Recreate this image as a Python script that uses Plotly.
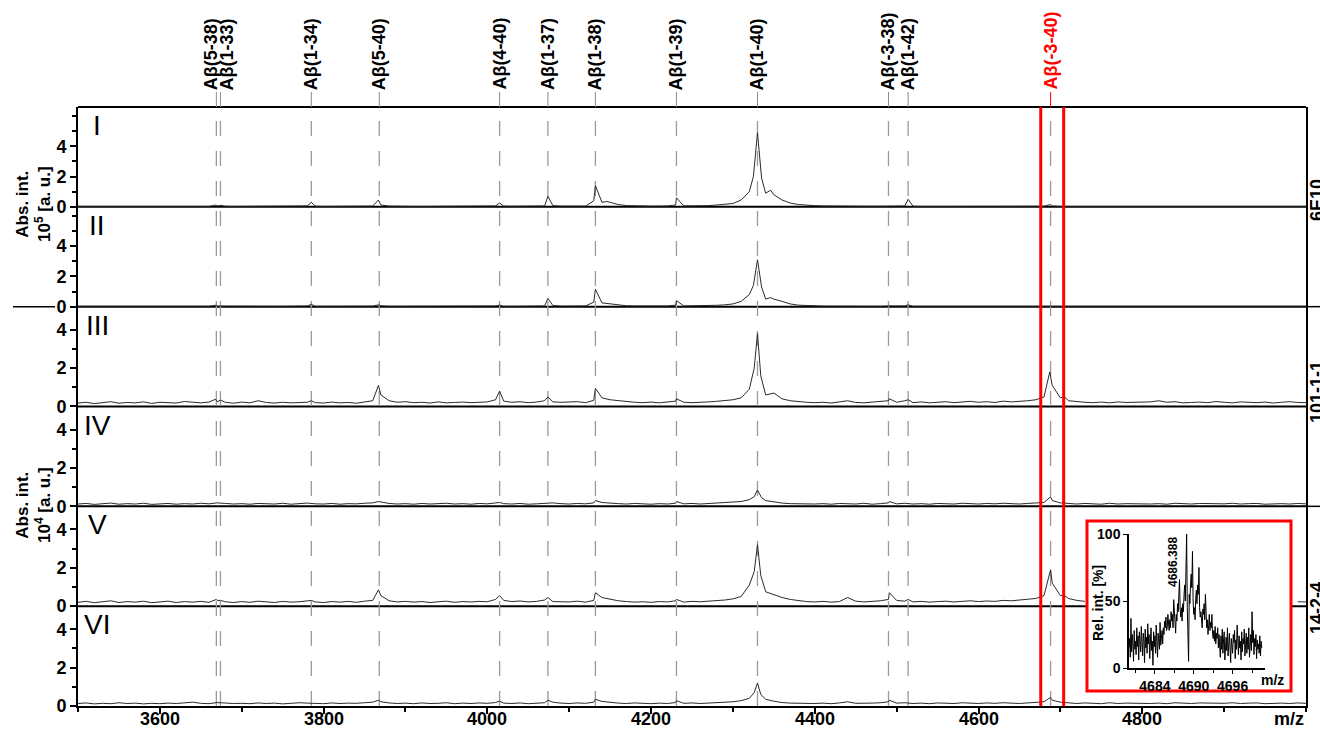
import plotly.graph_objects as go
from plotly.subplots import make_subplots

# ---------------- data ----------------
MZ_GRID = list(range(3500, 5001, 10))

PEAK_LABELS = ["Aβ(5-38)", "Aβ(1-33)", "Aβ(1-34)", "Aβ(5-40)", "Aβ(4-40)", "Aβ(1-37)",
               "Aβ(1-38)", "Aβ(1-39)", "Aβ(1-40)", "Aβ(-3-38)", "Aβ(1-42)", "Aβ(-3-40)"]
PEAK_MZ = [3669, 3674, 3785, 3868, 4015, 4074, 4132, 4231, 4330, 4490, 4514, 4688]
HIGHLIGHT_LABEL = "Aβ(-3-40)"
WINDOW_MZ = [4676, 4704]

PANEL_NAMES = ["I", "II", "III", "IV", "V", "VI"]
ANTIBODIES = ["6E10", "101-1-1", "14-2-4"]
X_TICKS = [3600, 3800, 4000, 4200, 4400, 4600, 4800]
X_TICK_LABELS = ["3600", "3800", "4000", "4200", "4400", "4600", "4800"]

# intensities in hundredths of the panel unit (I-II: 10^5, III-VI: 10^4), grid step 10 m/z
P1_GRID = [3,3,3,3,3,3,3,3,3,3,
           3,3,3,3,3,3,3,5,4,3,
           3,3,3,3,3,3,3,3,6,4,
           3,3,3,3,3,3,5,12,5,3,
           3,3,3,3,3,3,3,3,3,3,
           3,6,5,4,4,3,3,6,8,5,
           4,4,5,40,30,30,15,8,6,5,
           5,5,6,12,6,6,7,8,12,15,
           22,45,100,490,90,80,45,25,15,10,
           8,6,5,5,4,4,4,4,4,5,
           4,6,4,3,3,3,3,3,3,3,
           3,3,3,3,3,3,3,3,4,6,
           3,3,3,3,3,3,3,3,3,3,
           3,3,3,3,3,3,3,3,3,3,
           3,3,3,3,3,3,3,3,3,3,
           3]
P1_PEAKS = [(3669,0.12),(3674,0.10),(3785,0.30),(3867,0.45),(4015,0.25),(4074,0.70),
            (4132,1.40),(4146,0.35),(4231,0.60),(4325,2.0),(4335,1.9),(4346,1.1),
            (4490,0.06),(4514,0.50),(4688,0.15)]

P2_GRID = [3,3,3,3,3,3,3,3,3,3,
           3,3,3,3,3,3,3,4,4,3,
           3,3,3,3,3,3,3,3,5,3,
           3,3,3,3,3,3,4,6,3,3,
           3,3,3,3,3,3,3,3,3,3,
           3,5,3,3,3,3,3,5,8,4,
           4,4,5,30,25,20,10,6,5,4,
           4,4,5,10,5,5,6,7,9,12,
           18,35,80,310,50,50,35,18,10,7,
           5,4,4,3,3,3,3,3,3,4,
           3,5,3,3,3,3,3,3,3,3,
           3,3,3,3,3,3,3,3,3,4,
           3,3,3,3,3,3,3,3,3,3,
           3,3,3,3,3,3,3,3,3,3,
           3,3,3,3,3,3,3,3,3,3,
           3]
P2_PEAKS = [(3669,0.10),(3785,0.15),(3867,0.12),(4015,0.10),(4074,0.55),(4132,1.15),
            (4231,0.40),(4325,1.4),(4335,1.3),(4346,0.6),(4490,0.05),(4514,0.12),(4688,0.06)]

P3_GRID = [18,22,15,20,25,17,21,19,24,16,
           22,20,18,26,21,19,23,25,22,17,
           23,19,30,21,18,22,19,20,22,20,
           18,23,19,21,17,24,30,60,30,22,
           25,20,22,18,24,19,21,23,20,22,
           24,35,28,22,25,20,23,30,24,22,
           22,25,20,32,45,35,30,25,22,20,
           23,19,24,28,22,20,21,24,27,30,
           35,45,90,380,60,70,40,30,25,22,
           20,22,18,24,30,21,19,23,25,30,
           22,30,20,24,19,22,25,20,23,27,
           22,25,21,28,24,26,30,35,50,110,
           45,30,25,22,20,23,19,24,21,22,
           20,24,30,22,25,19,21,23,20,26,
           22,19,24,21,20,23,18,22,25,21,
           20]
P3_PEAKS = [(3668,0.38),(3674,0.33),(3785,0.30),(3867,1.10),(4015,0.80),(4074,0.50),
            (4132,0.95),(4231,0.40),(4326,2.0),(4334,1.6),(4491,0.40),(4514,0.35),
            (4687,1.80),(4705,0.50)]

P4_GRID = [12,15,10,13,17,11,14,12,16,10,
           13,15,11,14,12,16,13,18,15,12,
           14,11,15,13,12,16,11,14,17,13,
           12,15,11,14,13,16,18,22,15,12,
           14,11,15,12,13,16,12,14,11,15,
           13,17,14,12,15,11,13,16,18,14,
           12,15,13,18,20,16,14,12,15,13,
           11,14,12,16,13,15,12,14,16,18,
           20,25,35,85,30,22,17,14,13,15,
           12,14,11,15,13,12,16,11,14,18,
           13,16,12,14,11,15,13,12,16,14,
           12,15,13,16,14,12,15,17,20,30,
           18,14,12,15,13,11,16,12,14,13,
           15,12,14,11,16,13,12,15,14,11,
           13,16,12,14,15,11,13,14,12,15,
           13]
P4_PEAKS = [(3867,0.25),(4015,0.20),(4074,0.20),(4132,0.30),(4231,0.25),(4326,0.50),
            (4335,0.45),(4491,0.25),(4688,0.50)]

P5_GRID = [20,25,18,22,28,19,24,21,26,18,
           22,26,19,24,21,25,20,30,23,19,
           24,20,26,22,19,25,21,23,27,22,
           19,24,21,25,20,26,30,55,28,22,
           25,21,24,19,23,26,20,24,22,25,
           23,35,30,24,27,22,25,32,24,22,
           22,26,21,30,45,35,28,24,21,23,
           20,24,22,28,21,25,23,26,28,32,
           38,50,110,320,75,60,45,35,28,24,
           22,25,21,24,45,26,22,24,28,35,
           30,26,22,25,21,24,26,22,25,28,
           24,27,25,30,28,32,35,40,55,120,
           55,40,30,25,22,24,21,23,20,22,
           22,25,20,24,21,23,26,20,24,22,
           21,24,20,23,25,22,19,24,21,23,
           22]
P5_PEAKS = [(3669,0.35),(3674,0.30),(3785,0.30),(3867,0.85),(4015,0.55),(4074,0.45),
            (4132,0.70),(4231,0.35),(4326,1.8),(4334,1.6),(4491,0.70),(4514,0.35),
            (4688,1.90),(4705,0.55)]

P6_GRID = [13,16,11,14,12,17,13,15,11,14,
           12,15,13,16,20,14,12,18,15,13,
           14,12,16,13,15,11,14,17,15,13,
           12,16,13,15,14,17,20,22,16,13,
           15,12,16,13,14,17,12,15,13,16,
           14,18,15,13,16,12,14,17,20,15,
           13,16,14,20,24,18,15,13,16,14,
           12,15,13,18,14,16,13,15,17,18,
           22,28,40,120,35,25,18,15,14,16,
           13,15,12,16,22,14,13,15,17,22,
           15,17,13,15,12,16,14,13,17,15,
           13,16,14,17,15,13,16,18,22,30,
           20,15,13,16,14,12,17,13,15,14,
           16,13,15,12,17,14,13,16,15,12,
           14,17,13,15,16,12,14,15,13,16,
           14]
P6_PEAKS = [(3867,0.30),(4015,0.25),(4074,0.30),(4132,0.35),(4231,0.28),(4326,0.70),
            (4334,0.60),(4491,0.30),(4688,0.45)]

# inset: relative intensity [%], 4680.0 .. 4700.5 in 0.1 m/z steps
INSET_START, INSET_STEP = 4680.0, 0.1
INSET_INT = [15,22,8,37,12,25,18,5,28,14,
             20,10,30,16,24,6,27,19,12,31,
             17,9,26,21,4,29,15,23,11,33,
             18,25,7,22,30,13,20,2,27,16,
             24,11,32,19,8,26,21,14,34,17,
             22,28,18,30,25,35,30,38,28,30,
             40,32,28,36,30,42,35,40,30,51,
             38,30,26,40,35,48,42,55,66,44,
             38,45,35,48,42,55,62,50,70,100,
             45,12,5,55,48,62,70,60,87,50,
             40,45,36,52,58,48,62,55,75,45,
             38,42,35,30,44,40,48,36,55,34,
             30,36,25,32,40,28,34,30,40,26,
             22,28,20,31,18,26,22,30,15,25,
             18,8,24,14,29,11,21,27,6,19,
             23,13,30,9,20,26,15,4,22,17,
             11,25,19,28,7,21,14,32,16,10,
             24,15,20,6,27,12,22,18,29,9,
             17,26,11,23,14,30,8,20,25,13,
             42,19,28,10,22,16,25,7,21,14,
             18,11,24,9,20,15]
INSET_LABEL = "4686.388"
INSET_LABEL_POS = (4686.8, 59)

# ---------------- layout constants ----------------
FONT = "Liberation Sans, Arial, sans-serif"
W, H = 1320, 733
ML, MR, MT, MB = 78, 14, 107, 27
PW, PH = W - ML - MR, H - MT - MB


def px_x(px):
    return (px - ML) / PW


def px_y(py):
    return (H - MB - py) / PH


X_RANGE = [3500, 5000]
BOX = dict(x0=px_x(1087), x1=px_x(1291), y0=px_y(691), y1=px_y(521))
BOX_MZ = [X_RANGE[0] + BOX["x0"] * (X_RANGE[1] - X_RANGE[0]) - 2,
          X_RANGE[0] + BOX["x1"] * (X_RANGE[1] - X_RANGE[0])]


def build(grid, peaks):
    pts = {mz: v * 0.01 for mz, v in zip(MZ_GRID, grid)}
    for mz, v in peaks:
        pts[mz] = v
    xs = sorted(pts)
    return xs, [pts[x] for x in xs]


panels = [(P1_GRID, P1_PEAKS), (P2_GRID, P2_PEAKS), (P3_GRID, P3_PEAKS),
          (P4_GRID, P4_PEAKS), (P5_GRID, P5_PEAKS), (P6_GRID, P6_PEAKS)]
YMAX = [6.6, 6.6, 5.2, 5.2, 5.2, 5.2]

fig = make_subplots(rows=6, cols=1, shared_xaxes=True, vertical_spacing=0)

for r, (grid, peaks) in enumerate(panels, start=1):
    xs, ys = build(grid, peaks)
    if r == 5:
        ys = [None if BOX_MZ[0] < x < BOX_MZ[1] else y for x, y in zip(xs, ys)]
    fig.add_trace(go.Scatter(x=xs, y=ys, mode="lines", line=dict(color="#2a2a2a", width=1),
                             hoverinfo="skip", showlegend=False), row=r, col=1)

BOLD18 = dict(family=FONT, size=18, color="black", weight="bold")
for r in range(1, 7):
    minor_vals = [1, 3, 5, 6] if r <= 2 else [1, 3]
    fig.update_yaxes(row=r, col=1, range=[0, YMAX[r - 1]], tickmode="array", tickvals=[0, 2, 4],
                     ticks="outside", ticklen=6, tickwidth=1.5, tickcolor="black",
                     showline=True, mirror=True, linecolor="black", linewidth=2,
                     showgrid=False, zeroline=False, tickfont=BOLD18, automargin=False,
                     minor=dict(tickmode="array", tickvals=minor_vals, ticks="outside",
                                ticklen=4, tickwidth=1.5, tickcolor="black", showgrid=False))
    if r < 6:
        fig.update_xaxes(row=r, col=1, range=X_RANGE, showgrid=False, zeroline=False,
                         showline=False, ticks="", showticklabels=False, automargin=False)
    else:
        fig.update_xaxes(row=r, col=1, range=X_RANGE, showgrid=False, zeroline=False,
                         showline=True, linecolor="black", linewidth=2, automargin=False,
                         tickmode="array", tickvals=X_TICKS, ticks="outside", ticklen=6,
                         tickwidth=1.5, tickcolor="black", showticklabels=False,
                         minor=dict(tick0=3500, dtick=100, ticks="outside", ticklen=4,
                                    tickwidth=1.5, tickcolor="black", showgrid=False))

# inset
inset_x = [round(INSET_START + INSET_STEP * i, 1) for i in range(len(INSET_INT))]
fig.add_trace(go.Scatter(x=inset_x, y=INSET_INT, xaxis="x7", yaxis="y7", mode="lines",
                         line=dict(color="black", width=1), hoverinfo="skip", showlegend=False))
BOLD14 = dict(family=FONT, size=14, color="black", weight="bold")
fig.update_layout(
    xaxis7=dict(domain=[px_x(1129), px_x(1265)], anchor="y7", range=[4680, 4701],
                tickmode="array", tickvals=[4684, 4690, 4696], ticks="outside", ticklen=4,
                tickwidth=1.2, tickcolor="black", showline=True, linecolor="black", linewidth=1.5,
                showgrid=False, zeroline=False, tickfont=BOLD14, automargin=False,
                minor=dict(tickmode="array", tickvals=[4681, 4687, 4693, 4699], ticks="outside",
                           ticklen=3, tickwidth=1, tickcolor="black", showgrid=False)),
    yaxis7=dict(domain=[px_y(668), px_y(534)], anchor="x7", range=[0, 100],
                tickmode="array", tickvals=[0, 50, 100], ticks="outside", ticklen=4,
                tickwidth=1.2, tickcolor="black", showline=True, linecolor="black", linewidth=1.5,
                showgrid=False, zeroline=False, tickfont=BOLD14, automargin=False),
)

shapes = []
# panel boundaries
for k in range(1, 7):
    shapes.append(dict(type="line", xref="paper", yref="paper", x0=0, x1=1, y0=k / 6, y1=k / 6,
                       line=dict(color="black", width=2), layer="below"))
# inset box (white fill hides what lies behind)
shapes.append(dict(type="rect", xref="paper", yref="paper", **BOX, fillcolor="white",
                   line=dict(color="#ff0000", width=3), layer="below"))
# dashed peak markers and label connectors
for lab, mz in zip(PEAK_LABELS, PEAK_MZ):
    shapes.append(dict(type="line", xref="x", yref="paper", x0=mz, x1=mz, y0=0, y1=1,
                       line=dict(color="#9a9a9a", width=1.3, dash="longdash"), layer="below"))
    col = "#ff0000" if lab == HIGHLIGHT_LABEL else "#8a8a8a"
    shapes.append(dict(type="line", xref="x", yref="paper", x0=mz, x1=mz, y0=1, y1=1 + 15 / PH,
                       line=dict(color=col, width=1)))
# red window
for mz in WINDOW_MZ:
    shapes.append(dict(type="line", xref="x", yref="paper", x0=mz, x1=mz, y0=0, y1=1,
                       line=dict(color="#ff0000", width=3), layer="above"))
# group separators
shapes.append(dict(type="line", xref="paper", yref="paper", x0=px_x(13), x1=px_x(55),
                   y0=4 / 6, y1=4 / 6, line=dict(color="black", width=1.5)))
for yy in (4 / 6, 2 / 6):
    shapes.append(dict(type="line", xref="paper", yref="paper", x0=1, x1=px_x(1322),
                       y0=yy, y1=yy, line=dict(color="black", width=1.5)))

annotations = []
LABEL_SHIFT = {"Aβ(5-38)": -5, "Aβ(1-33)": 7}
for lab, mz in zip(PEAK_LABELS, PEAK_MZ):
    col = "#ff0000" if lab == HIGHLIGHT_LABEL else "black"
    annotations.append(dict(text=lab, x=mz, xref="x", y=1 + 15 / PH, yref="paper",
                            xanchor="center", yanchor="bottom", textangle=-90, showarrow=False,
                            xshift=LABEL_SHIFT.get(lab, 0),
                            font=dict(family=FONT, size=18, color=col, weight="bold")))
for i, name in enumerate(PANEL_NAMES):
    annotations.append(dict(text=name, x=px_x(97), xref="paper", y=1 - i / 6 - 1 / PH, yref="paper",
                            xanchor="center", yanchor="top", showarrow=False,
                            font=dict(family=FONT, size=28, color="black")))
for txt, py in (("Abs. int.<br>10<sup>5</sup> [a. u.]", 204), ("Abs. int.<br>10<sup>4</sup> [a. u.]", 505)):
    annotations.append(dict(text=txt, x=px_x(33), xref="paper", y=px_y(py), yref="paper",
                            xanchor="center", yanchor="middle", textangle=-90, showarrow=False,
                            font=dict(family=FONT, size=17, color="black", weight="bold")))
for name, py in zip(ANTIBODIES, (200, 392, 608)):
    annotations.append(dict(text=name, x=px_x(1317), xref="paper", y=px_y(py), yref="paper",
                            xanchor="center", yanchor="middle", textangle=-90, showarrow=False,
                            font=dict(family=FONT, size=18, color="black", weight="bold")))
# bottom axis tick labels (placed close to the axis, as in the reference)
for tv, tl in zip(X_TICKS, X_TICK_LABELS):
    annotations.append(dict(text=tl, x=tv, xref="x6", y=px_y(719), yref="paper",
                            xanchor="center", yanchor="middle", showarrow=False, font=BOLD18))
annotations.append(dict(text="m/z", x=1, xref="paper", y=px_y(719), yref="paper",
                        xanchor="right", yanchor="middle", showarrow=False, font=BOLD18))
# inset texts
annotations.append(dict(text="Rel. int. [%]", x=px_x(1098), xref="paper", y=px_y(603), yref="paper",
                        xanchor="center", yanchor="middle", textangle=-90, showarrow=False, font=BOLD14))
annotations.append(dict(text="m/z", x=px_x(1272), xref="paper", y=px_y(680), yref="paper",
                        xanchor="center", yanchor="middle", showarrow=False, font=BOLD14))
annotations.append(dict(text=INSET_LABEL, x=INSET_LABEL_POS[0], xref="x7", y=INSET_LABEL_POS[1],
                        yref="y7", xanchor="center", yanchor="bottom", textangle=-90, showarrow=False,
                        font=dict(family=FONT, size=12, color="black", weight="bold")))

fig.update_layout(width=W, height=H, margin=dict(l=ML, r=MR, t=MT, b=MB, autoexpand=False),
                  paper_bgcolor="white", plot_bgcolor="white", showlegend=False,
                  font=dict(family=FONT, color="black"), shapes=shapes, annotations=annotations)

fig.write_html("out.html")
